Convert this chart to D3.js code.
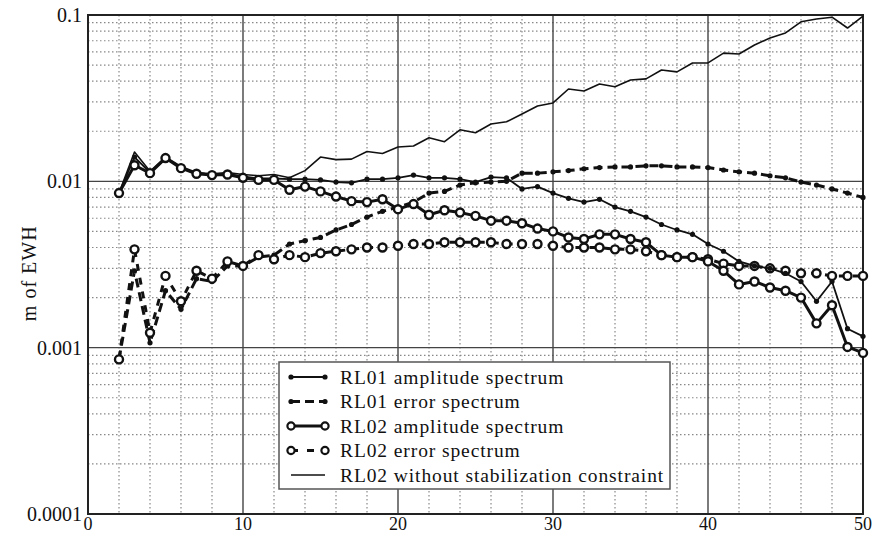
<!DOCTYPE html>
<html>
<head>
<meta charset="utf-8">
<script src="https://cdn.jsdelivr.net/npm/d3@7"></script>
<style>
  body { margin: 0; background: #fff; }
  svg text { font-family: "Liberation Serif", "DejaVu Serif", serif; fill: #111; }
</style>
</head>
<body>
<svg id="chart" width="890" height="536"></svg>
<script>
// spherical harmonic degree
var degrees = [2, 3, 4, 5, 6, 7, 8, 9, 10, 11, 12, 13, 14, 15, 16, 17, 18, 19, 20, 21, 22, 23, 24, 25, 26,
  27, 28, 29, 30, 31, 32, 33, 34, 35, 36, 37, 38, 39, 40, 41, 42, 43, 44, 45, 46, 47, 48, 49, 50];

var rl01Amp = [0.0085, 0.0140, 0.0113, 0.0137, 0.0121, 0.0112, 0.0110, 0.0111, 0.0107, 0.0104, 0.0104, 0.0103,
  0.0103, 0.0102, 0.0099, 0.0098, 0.0103, 0.0103, 0.0105, 0.0109, 0.0105, 0.0105, 0.0103, 0.0099, 0.0106,
  0.0105, 0.0090, 0.0093, 0.0085, 0.0079, 0.0075, 0.0078, 0.0070, 0.0066, 0.0061, 0.0055, 0.0051, 0.0048,
  0.0042, 0.0038, 0.0033, 0.0031, 0.0030, 0.0028, 0.0025, 0.0019, 0.0025, 0.0013, 0.00117];

var rl01Err = [0.00085, 0.0029, 0.00107, 0.0022, 0.0017, 0.0026, 0.0025, 0.0031, 0.0031, 0.0035, 0.0036, 0.0042,
  0.0044, 0.0046, 0.0051, 0.0055, 0.0061, 0.0066, 0.0070, 0.0075, 0.0085, 0.0087, 0.0095, 0.0098, 0.0099,
  0.0100, 0.0112, 0.0112, 0.0114, 0.0116, 0.0119, 0.0121, 0.0122, 0.0122, 0.0124, 0.0124, 0.0122, 0.0122,
  0.0121, 0.0117, 0.0114, 0.0112, 0.0108, 0.0105, 0.0099, 0.0095, 0.0090, 0.0085, 0.0080];

var rl02Amp = [0.0085, 0.0125, 0.0112, 0.0138, 0.0120, 0.0111, 0.0109, 0.0110, 0.0105, 0.0102, 0.0102, 0.0089,
  0.0093, 0.0087, 0.0081, 0.0076, 0.0075, 0.0078, 0.0068, 0.0073, 0.0063, 0.0067, 0.0065, 0.0062, 0.0058,
  0.0058, 0.0056, 0.0052, 0.0050, 0.0046, 0.0045, 0.0048, 0.0048, 0.0045, 0.0043, 0.0036, 0.0035, 0.0035,
  0.0033, 0.0029, 0.0024, 0.0025, 0.0023, 0.0022, 0.0020, 0.0014, 0.0018, 0.00101, 0.00093];

var rl02Err = [0.00085, 0.0039, 0.00123, 0.0027, 0.0019, 0.0029, 0.0026, 0.0033, 0.0031, 0.0036, 0.0034, 0.0036,
  0.0035, 0.0037, 0.0038, 0.0039, 0.0040, 0.0040, 0.0041, 0.0042, 0.0042, 0.0043, 0.0043, 0.0043, 0.0043,
  0.0042, 0.0042, 0.0042, 0.0041, 0.0040, 0.0040, 0.0040, 0.0039, 0.0039, 0.0038, 0.0036, 0.0035, 0.0035,
  0.0034, 0.0032, 0.0031, 0.0031, 0.0030, 0.0029, 0.0028, 0.0028, 0.0027, 0.0027, 0.0027];

var rl02NoStab = [0.0085, 0.0150, 0.0115, 0.0140, 0.0123, 0.0113, 0.0111, 0.0113, 0.0110, 0.0108, 0.0110, 0.0105,
  0.0116, 0.0140, 0.0135, 0.0136, 0.0151, 0.0147, 0.0161, 0.0163, 0.0183, 0.0173, 0.0204, 0.0196, 0.0221,
  0.0228, 0.0254, 0.0284, 0.0296, 0.0359, 0.0349, 0.0385, 0.0370, 0.0407, 0.0413, 0.0467, 0.0455, 0.0515,
  0.0515, 0.0590, 0.0583, 0.0660, 0.0727, 0.0780, 0.0910, 0.0946, 0.0970, 0.0835, 0.0986];

var xTicks = [0, 10, 20, 30, 40, 50];
var yTicks = [0.0001, 0.001, 0.01, 0.1];
var yTickLabels = ["0.0001", "0.001", "0.01", "0.1"];
var legendLabels = ["RL01 amplitude spectrum", "RL01 error spectrum", "RL02 amplitude spectrum",
  "RL02 error spectrum", "RL02 without stabilization constraint"];

var margin = { top: 15, right: 27, bottom: 22, left: 88 };
var W = 890, H = 536;
var w = W - margin.left - margin.right,
    h = H - margin.top - margin.bottom;

var svg = d3.select("#chart");
var g = svg.append("g").attr("transform", "translate(" + margin.left + "," + margin.top + ")");

var x = d3.scaleLinear().domain([0, 50]).range([0, w]);
var y = d3.scaleLog().domain([0.0001, 0.1]).range([h, 0]);

// minor grid (dotted)
var minorX = d3.range(2, 50, 2).filter(d => d % 10 !== 0);
g.selectAll(".vminor").data(minorX).enter().append("line")
  .attr("x1", d => x(d)).attr("x2", d => x(d))
  .attr("y1", 0).attr("y2", h)
  .style("stroke", "#888").style("stroke-width", 1.2).style("stroke-dasharray", "1.5,2.5");

var minorY = [];
[0.0001, 0.001, 0.01].forEach(function (dec) {
  for (var k = 2; k <= 9; k++) minorY.push(dec * k);
});
g.selectAll(".hminor").data(minorY).enter().append("line")
  .attr("x1", 0).attr("x2", w)
  .attr("y1", d => y(d)).attr("y2", d => y(d))
  .style("stroke", "#888").style("stroke-width", 1.2).style("stroke-dasharray", "1.5,2.5");

// major grid
g.selectAll(".vmajor").data(xTicks.slice(1, -1)).enter().append("line")
  .attr("x1", d => x(d)).attr("x2", d => x(d))
  .attr("y1", 0).attr("y2", h)
  .style("stroke", "#444").style("stroke-width", 1.4);
g.selectAll(".hmajor").data(yTicks.slice(1, -1)).enter().append("line")
  .attr("x1", 0).attr("x2", w)
  .attr("y1", d => y(d)).attr("y2", d => y(d))
  .style("stroke", "#444").style("stroke-width", 1.4);

// frame
g.append("rect").attr("width", w).attr("height", h)
  .style("fill", "none").style("stroke", "#222").style("stroke-width", 2);

// tick labels
g.selectAll(".ylab").data(yTicks).enter().append("text")
  .attr("x", -6).attr("y", d => y(d)).attr("dy", "0.35em")
  .attr("text-anchor", "end").style("font-size", "20px")
  .text((d, i) => yTickLabels[i]);
g.selectAll(".xlab").data(xTicks).enter().append("text")
  .attr("x", d => x(d)).attr("y", h + 16)
  .attr("text-anchor", "middle").style("font-size", "18px")
  .text(d => d);

svg.append("text")
  .attr("transform", "translate(36," + (margin.top + y(0.0028)) + ") rotate(-90)")
  .attr("text-anchor", "middle").style("font-size", "20px")
  .style("letter-spacing", "1px")
  .text("m of EWH");

// series
function toPts(vals) {
  return degrees.map((d, i) => [d, vals[i]]);
}
var line = d3.line().x(d => x(d[0])).y(d => y(d[1]));

var series = [
  { name: legendLabels[4], vals: rl02NoStab, width: 1.6, dash: null, marker: null },
  { name: legendLabels[1], vals: rl01Err, width: 3, dash: "9,5", marker: "dot" },
  { name: legendLabels[3], vals: rl02Err, width: 3, dash: "7,7", marker: "circle" },
  { name: legendLabels[0], vals: rl01Amp, width: 1.8, dash: null, marker: "dot" },
  { name: legendLabels[2], vals: rl02Amp, width: 3, dash: null, marker: "circle" }
];

series.forEach(function (s) {
  var pts = toPts(s.vals);
  g.append("path").datum(pts)
    .attr("d", line)
    .style("fill", "none").style("stroke", "#111")
    .style("stroke-width", s.width)
    .style("stroke-dasharray", s.dash)
    .style("stroke-linejoin", "round");
  if (s.marker === "dot") {
    g.selectAll(null).data(pts).enter().append("circle")
      .attr("cx", d => x(d[0])).attr("cy", d => y(d[1]))
      .attr("r", 2.6).style("fill", "#111");
  } else if (s.marker === "circle") {
    g.selectAll(null).data(pts).enter().append("circle")
      .attr("cx", d => x(d[0])).attr("cy", d => y(d[1]))
      .attr("r", 4).style("fill", "#fff")
      .style("stroke", "#111").style("stroke-width", 2.4);
  }
});

// legend
var lg = svg.append("g").attr("transform", "translate(279,362)");
lg.append("rect").attr("width", 391).attr("height", 127)
  .style("fill", "#fff").style("stroke", "#555").style("stroke-width", 1.5);

var legendStyle = [
  { width: 1.8, dash: null, marker: "dot" },
  { width: 3, dash: "9,5", marker: "dot" },
  { width: 3, dash: null, marker: "circle" },
  { width: 3, dash: "7,9", marker: "circle" },
  { width: 1.4, dash: null, marker: null }
];

legendLabels.forEach(function (lab, i) {
  var st = legendStyle[i];
  var row = lg.append("g").attr("transform", "translate(0," + (15 + i * 24.5) + ")");
  row.append("line").attr("x1", 12).attr("x2", 46).attr("y1", 0).attr("y2", 0)
    .style("stroke", "#111").style("stroke-width", st.width)
    .style("stroke-dasharray", st.dash);
  [12, 46].forEach(function (cx) {
    if (st.marker === "dot") {
      row.append("circle").attr("cx", cx).attr("cy", 0).attr("r", 2.6).style("fill", "#111");
    } else if (st.marker === "circle") {
      row.append("circle").attr("cx", cx).attr("cy", 0).attr("r", 3.6)
        .style("fill", "#fff").style("stroke", "#111").style("stroke-width", 2.2);
    }
  });
  row.append("text").attr("x", 61).attr("y", 0).attr("dy", "0.35em")
    .style("font-size", "19.5px").style("letter-spacing", "0.9px").text(lab);
});
</script>
</body>
</html>
